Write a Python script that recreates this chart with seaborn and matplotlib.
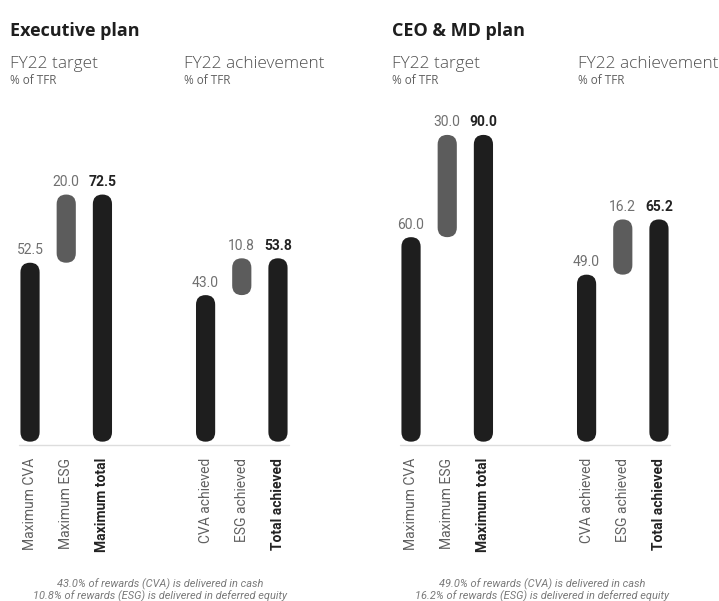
import numpy as np
import pandas as pd
import seaborn as sns
import matplotlib.pyplot as plt
from matplotlib.patches import FancyBboxPatch

# Bar labels (same for both plans)
exec_labels = ["Maximum CVA", "Maximum ESG", "Maximum total",
               "CVA achieved", "ESG achieved", "Total achieved"]
ceo_labels = ["Maximum CVA", "Maximum ESG", "Maximum total",
              "CVA achieved", "ESG achieved", "Total achieved"]

# Values shown above each bar (% of TFR)
exec_values = [52.5, 20.0, 72.5, 43.0, 10.8, 53.8]
ceo_values = [60.0, 30.0, 90.0, 49.0, 16.2, 65.2]

# Where each bar starts (ESG sits on top of CVA)
exec_bottoms = [0.0, 52.5, 0.0, 0.0, 43.0, 0.0]
ceo_bottoms = [0.0, 60.0, 0.0, 0.0, 49.0, 0.0]

exec_notes = ["43.0% of rewards (CVA) is delivered in cash",
              "10.8% of rewards (ESG) is delivered in deferred equity"]
ceo_notes = ["49.0% of rewards (CVA) is delivered in cash",
             "16.2% of rewards (ESG) is delivered in deferred equity"]

sns.set_theme(style="white")
plt.rcParams['font.family'] = ['Roboto', 'DejaVu Sans']

# layout: bar slots with a gap between target and achievement groups
slots = [0, 1, 2, 4.85, 5.85, 6.85]
bar_colors = ["#1e1e1e", "#5c5c5c", "#1e1e1e", "#1e1e1e", "#5c5c5c", "#1e1e1e"]
bold = [False, False, True, False, False, True]

fig = plt.figure(figsize=(7.19, 6.01), dpi=100)
W, H = 719, 601


def px_axes(left, top, width, height):
    return fig.add_axes([left / W, 1 - (top + height) / H, width / W, height / H])


def draw_plan(ax, labels, values, bottoms):
    tops = [b + v for b, v in zip(bottoms, values)]
    df = pd.DataFrame({"slot": slots, "top": tops})
    sns.barplot(data=df, x="slot", y="top", native_scale=True, width=0.53,
                errorbar=None, ax=ax)
    ax.set_xlim(-0.7, 7.5)
    ax.set_ylim(-1.5, 97.3)

    # turn the plain bars into rounded pills
    p0 = ax.transData.transform((0, 0))
    p1 = ax.transData.transform((1, 1))
    aspect = (p1[0] - p0[0]) / (p1[1] - p0[1])
    bars = sorted(ax.patches, key=lambda p: p.get_x())
    for bar, b, t, c in zip(bars, bottoms, tops, bar_colors):
        x, w = bar.get_x(), bar.get_width()
        bar.remove()
        ax.add_patch(FancyBboxPatch((x, b), w, t - b,
                                    boxstyle=f"round,pad=0,rounding_size={w / 2}",
                                    mutation_aspect=aspect, fc=c, ec="none"))

    # value labels
    for s, t, v, bd in zip(slots, tops, values, bold):
        ax.annotate(f"{v:.1f}", (s, t), xytext=(0, 4), textcoords="offset points",
                    ha="center", va="bottom", fontsize=10,
                    fontweight="bold" if bd else "normal",
                    color="#222222" if bd else "#707070")

    # baseline
    ax.plot([-0.3, 7.15], [-1, -1], color="#dddddd", lw=1)

    ax.set_xticks(slots)
    ax.set_xticklabels(labels, rotation=90, fontsize=10)
    for lab, bd in zip(ax.get_xticklabels(), bold):
        lab.set_fontweight("bold" if bd else "normal")
        lab.set_color("#222222" if bd else "#606060")
    ax.tick_params(axis="x", length=0, pad=8)
    ax.set_yticks([])
    ax.set_xlabel("")
    ax.set_ylabel("")
    sns.despine(ax=ax, left=True, bottom=True)


ax1 = px_axes(4.7, 110, 296.8, 336.8)
ax2 = px_axes(385.7, 110, 296.8, 336.8)
draw_plan(ax1, exec_labels, exec_values, exec_bottoms)
draw_plan(ax2, ceo_labels, ceo_values, ceo_bottoms)

head = ['Open Sans', 'DejaVu Sans']
for x0, title, x_ach in [(10, "Executive plan", 184), (392, "CEO & MD plan", 578)]:
    fig.text(x0 / W, 1 - 36 / H, title, fontsize=13, fontweight="bold",
             color="#1e1e1e", family=head, va="baseline")
    for xx in (x0, x_ach):
        fig.text(xx / W, 1 - 68 / H, "FY22 target" if xx == x0 else "FY22 achievement",
                 fontsize=12.4, fontweight="light", color="#505050", family=head,
                 va="baseline")
        fig.text(xx / W, 1 - 84 / H, "% of TFR", fontsize=8.5, color="#606060",
                 family=head, va="baseline")

for xc, notes in [(160, exec_notes), (542, ceo_notes)]:
    for yy, note in zip((584, 596), notes):
        fig.text(xc / W, 1 - yy / H, note, fontsize=7.9, style="italic",
                 color="#7a7a7a", ha="center", va="center")

fig.savefig("out.png", dpi=100)
